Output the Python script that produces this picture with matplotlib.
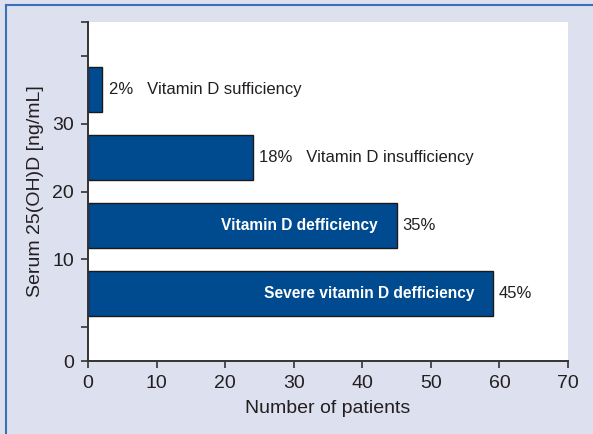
import matplotlib
matplotlib.use("Agg")
import matplotlib.pyplot as plt
from matplotlib.lines import Line2D
import numpy as np

# data
categories = ["Severe vitamin D defficiency", "Vitamin D defficiency",
              "Vitamin D insufficiency", "Vitamin D sufficiency"]
patients = [59, 45, 24, 2]
percents = [45, 35, 18, 2]
label_inside = [True, True, False, False]
ytick_pos = [0, 0.5, 1.5, 2.5, 3.5, 4.5, 5]
ytick_labels = ["0", "", "10", "20", "30", "", ""]
xticks = [0, 10, 20, 30, 40, 50, 60, 70]

BG = "#dde0ee"
BAR = "#004a8f"
BORDER = "#3b6fb6"
TXT = "#231f20"

plt.rcParams["font.family"] = ["Liberation Sans Narrow", "Liberation Sans", "DejaVu Sans"]

fig = plt.figure(figsize=(5.93, 4.34), dpi=100, facecolor=BG)
ax = fig.add_axes([88 / 593, 73 / 434, 480 / 593, 339 / 434])
ax.set_facecolor("white")

ypos = np.arange(1, len(patients) + 1)
ax.barh(ypos, patients, height=0.66, color=BAR, edgecolor="#1a1a1a", linewidth=1.0)

for y, val, pct, name, inside in zip(ypos, patients, percents, categories, label_inside):
    if inside:
        ax.text(val - 2.7, y, name, ha="right", va="center", color="white",
                fontsize=11.2, fontweight="bold")
        ax.text(val + 0.9, y, f"{pct}%", ha="left", va="center", color=TXT, fontsize=12)
    else:
        ax.text(val + 1.0, y, f"{pct}%   {name}", ha="left", va="center", color=TXT,
                fontsize=12)

ax.set_xlim(0, 70)
ax.set_ylim(0, 5)
ax.set_xticks(xticks)
ax.set_yticks(ytick_pos)
ax.set_yticklabels(ytick_labels)
ax.tick_params(axis="both", colors="#333333", labelcolor=TXT, labelsize=14,
               length=5, width=1.2)
ax.tick_params(axis="x", pad=5)
ax.tick_params(axis="y", pad=5)

for side in ("top", "right"):
    ax.spines[side].set_visible(False)
for side in ("left", "bottom"):
    ax.spines[side].set_color("#333333")
    ax.spines[side].set_linewidth(1.4)

ax.set_xlabel("Number of patients", fontsize=14, color=TXT, labelpad=6)
ax.set_ylabel("Serum 25(OH)D [ng/mL]", fontsize=14, color=TXT, labelpad=6)

# thin blue frame along the top and left edge
fig.add_artist(Line2D([6 / 593, 1], [1 - 5 / 434, 1 - 5 / 434], transform=fig.transFigure,
                      color=BORDER, linewidth=1.5))
fig.add_artist(Line2D([6 / 593, 6 / 593], [0, 1 - 5 / 434], transform=fig.transFigure,
                      color=BORDER, linewidth=1.5))

fig.savefig("out.png", dpi=100, facecolor=BG)
